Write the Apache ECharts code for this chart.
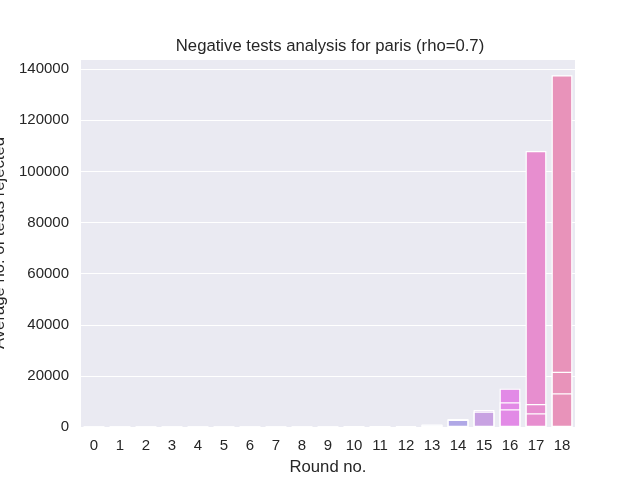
<!DOCTYPE html>
<html>
<head>
<meta charset="utf-8">
<script src="https://cdn.jsdelivr.net/npm/echarts@6/dist/echarts.min.js"></script>
<style>
  html, body { margin: 0; padding: 0; background: #fff; }
  #chart { width: 640px; height: 480px; }
</style>
</head>
<body>
<div id="chart"></div>
<script>
// rounds on the x axis
var rounds = ['0','1','2','3','4','5','6','7','8','9','10','11','12','13','14','15','16','17','18'];
// three bar layers drawn on top of each other (tallest first)
var totalRejected = [0, 0, 0, 0, 0, 0, 0, 0, 0, 10, 30, 100, 350, 1000, 3100, 6650, 15000, 108000, 137600];
var midRejected   = [0, 0, 0, 0, 0, 0, 0, 0, 0, 5, 20, 80, 250, 800, 2900, 6100, 9650, 9000, 21600];
var lowRejected   = [0, 0, 0, 0, 0, 0, 0, 0, 0, 0, 10, 60, 200, 700, 2800, 6000, 6900, 5350, 13200];
// seaborn husl palette, desaturated
var palette = ['#e2828f','#dd8a6e','#d09360','#bb9d5a','#a8a458','#93ab58','#72b25d','#5bb47f',
               '#5cb296','#5db1a6','#5fb0b5','#63adc7','#7aaadb','#9fb1e6','#b0a8e6','#c8a2e2',
               '#e28ae6','#e78ecf','#e893ba'];

var font = 'Liberation Sans, Arial, sans-serif';
var textColor = '#262626';

function layer(name, values) {
    return {
        name: name,
        type: 'bar',
        barWidth: '80%',
        barGap: '-100%',
        data: values,
        itemStyle: {
            color: function (p) { return palette[p.dataIndex]; },
            borderColor: '#ffffff',
            borderWidth: 1.2
        }
    };
}

var chart = echarts.init(document.getElementById('chart'));
chart.setOption({
    backgroundColor: '#ffffff',
    animation: false,
    title: {
        text: 'Negative tests analysis for paris (rho=0.7)',
        left: 325,
        top: 33,
        textAlign: 'center',
        textStyle: { fontFamily: font, fontSize: 16.7, fontWeight: 'normal', color: textColor }
    },
    grid: {
        left: 81, right: 65, top: 59, bottom: 53,
        outerBoundsMode: 'none',
        containLabel: false,
        show: true, backgroundColor: '#eaeaf2', borderWidth: 0
    },
    xAxis: {
        type: 'category',
        data: rounds,
        name: 'Round no.',
        nameLocation: 'middle',
        nameGap: 32,
        nameTextStyle: { fontFamily: font, fontSize: 16.7, color: textColor },
        axisLine: { show: false },
        axisTick: { show: false },
        axisLabel: { fontFamily: font, fontSize: 15, color: textColor, margin: 11, interval: 0 }
    },
    yAxis: {
        type: 'value',
        min: 0,
        max: 144000,
        interval: 20000,
        name: 'Average no. of tests rejected',
        nameLocation: 'middle',
        nameGap: 72,
        nameTextStyle: { fontFamily: font, fontSize: 16.7, color: textColor },
        axisLine: { show: false },
        axisTick: { show: false },
        axisLabel: {
            fontFamily: font, fontSize: 15, color: textColor, margin: 12, showMaxLabel: false,
            formatter: function (v) { return String(v); }
        },
        splitLine: { lineStyle: { color: '#ffffff', width: 1.2 } }
    },
    series: [
        layer('total', totalRejected),
        layer('mid', midRejected),
        layer('low', lowRejected)
    ]
});
</script>
</body>
</html>
